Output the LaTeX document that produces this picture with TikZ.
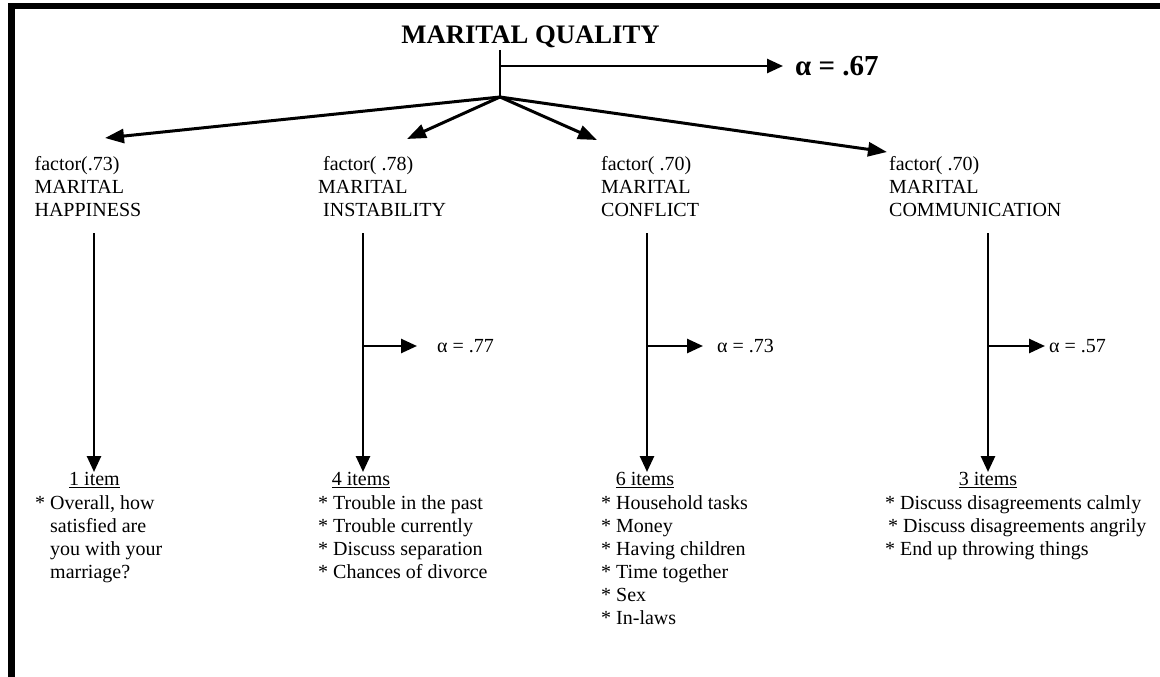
\documentclass[tikz,border=0pt]{standalone}
\usepackage{fontspec}
\setmainfont{Liberation Serif}
\usetikzlibrary{arrows.meta}
\newcommand{\txtfont}{\fontsize{20}{23}\selectfont}
\newcommand{\ttlfont}{\bfseries\fontsize{26.7}{30}\selectfont}

\begin{document}
\begin{tikzpicture}[x=1pt, y=-1pt, >={Triangle[length=16pt, width=14pt]},
  lbl/.style={font=\txtfont, inner sep=0pt, align=left, anchor=north west},
  hdr/.style={font=\txtfont, inner sep=0pt, anchor=north},
  alphalbl/.style={font=\txtfont, inner sep=0pt, anchor=west},
  link/.style={line width=2.6pt}]
\useasboundingbox (0,0) rectangle (1160,677);
\draw[line width=6.6pt] (11.5,677) -- (11.5,6) -- (1160,6);
% overall scale
\node[font=\ttlfont, inner sep=0pt, anchor=base] (mq) at (530.5,43.5) {MARITAL QUALITY};
\node[font=\bfseries\fontsize{29}{32}\selectfont, inner sep=0pt, anchor=west] (a0) at (795,66) {α = .67};
\coordinate (top) at (500,50);
\coordinate (fork) at (500,66);
\coordinate (apex) at (500,97);
\draw[link] (top) -- (apex);
\draw[link, ->, shorten >=12pt] (fork) -- (a0.west);
% factors
\node[lbl] (fH) at (34.4,156) {factor(.73)\\MARITAL\\HAPPINESS};
\node[lbl] (fI) at (318,156) {\hspace*{5pt}factor( .78)\\MARITAL\\\hspace*{5pt}INSTABILITY};
\node[lbl] (fC) at (601,156) {factor( .70)\\MARITAL\\CONFLICT};
\node[lbl] (fM) at (889,156) {factor( .70)\\MARITAL\\COMMUNICATION};
\coordinate (tH) at (105,138);
\coordinate (tI) at (407,139);
\coordinate (tC) at (597,140);
\coordinate (tM) at (887,152);
\foreach \t in {tH,tI,tC,tM}
  \draw[line width=3pt, ->, >={Triangle[length=19pt, width=14pt]}] (apex) -- (\t);
% item counts
\node[hdr] (nH) at (94.5,472) {\underline{1 item}};
\node[hdr] (nI) at (361,472) {\underline{4 items}};
\node[hdr] (nC) at (645,472) {\underline{6 items}};
\node[hdr] (nM) at (988,472) {\underline{3 items}};
\coordinate (sH) at (94,233);
\coordinate (sI) at (363,233);
\coordinate (sC) at (647,233);
\coordinate (sM) at (988,233);
\draw[link, ->] (sH) -- (sH |- nH.north);
\draw[link, ->] (sI) -- (sI |- nI.north);
\draw[link, ->] (sC) -- (sC |- nC.north);
\draw[link, ->] (sM) -- (sM |- nM.north);
% reliabilities
\node[alphalbl] (aI) at (437,346) {α = .77};
\node[alphalbl] (aC) at (717,346) {α = .73};
\node[alphalbl] (aM) at (1049,346) {α = .57};
\draw[link, ->, shorten >=20pt] (sI |- aI.west) -- (aI.west);
\draw[link, ->, shorten >=14pt] (sC |- aC.west) -- (aC.west);
\draw[link, ->, shorten >=4pt] (sM |- aM.west) -- (aM.west);
% items
\node[lbl] (iH) at (35,495) {* Overall, how\\\hphantom{* }satisfied are\\\hphantom{* }you with your\\\hphantom{* }marriage?};
\node[lbl] (iI) at (318,495) {* Trouble in the past\\{}* Trouble currently\\{}* Discuss separation\\{}* Chances of divorce};
\node[lbl] (iC) at (601,495) {* Household tasks\\{}* Money\\{}* Having children\\{}* Time together\\{}* Sex\\{}* In-laws};
\node[lbl] (iM) at (885,495) {* Discuss disagreements calmly\\\hspace*{3pt}* Discuss disagreements angrily\\{}* End up throwing things};
\end{tikzpicture}
\end{document}
